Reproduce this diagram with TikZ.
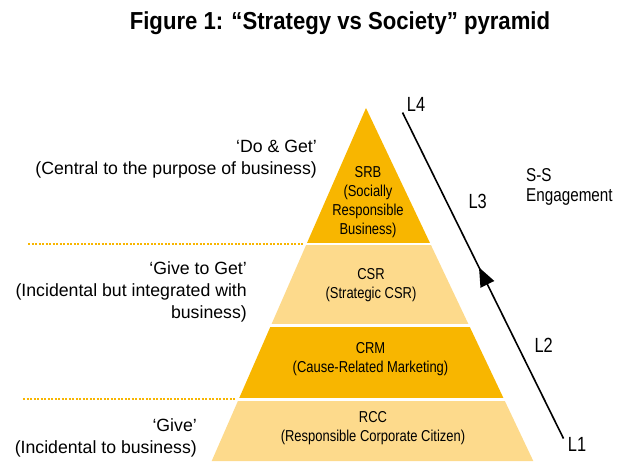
\documentclass[tikz,border=0pt]{standalone}
\usepackage{fontspec}
\setmainfont{Liberation Sans}
\newfontfamily\titlefont[FakeStretch=0.9]{Liberation Sans}
\newfontfamily\bandfont[FakeStretch=0.82]{Liberation Sans}
\newfontfamily\levelfont[FakeStretch=0.8]{Liberation Sans}
\usetikzlibrary{arrows.meta,calc}
\definecolor{darkband}{RGB}{248,182,0}
\definecolor{lightband}{RGB}{253,218,140}
\tikzset{
  lefttext/.style={anchor=base east,inner sep=0pt,align=right,font=\fontsize{17.7}{22}\selectfont},
  bandtext/.style={anchor=base,inner sep=0pt,align=center,font=\bandfont\fontsize{15.8}{18.8}\selectfont},
  leveltext/.style={anchor=base west,inner sep=0pt,font=\levelfont\fontsize{20.5}{24}\selectfont},
  divider/.style={darkband,line width=2pt,dash pattern=on 2pt off 1.5pt},
}
\begin{document}
\begin{tikzpicture}[x=1pt,y=-1pt]
    \useasboundingbox (0,0) rectangle (621,461);
    \path (340,29.3) node[anchor=base,inner sep=0pt,font=\titlefont\bfseries\fontsize{24.6}{30}\selectfont] (title) {Figure 1: “Strategy vs Society” pyramid};

    \begin{scope}
      \clip (366,108) -- (211.7,461) -- (533.3,461) -- cycle;
      \fill[darkband] (200,100) rectangle (550,243);
      \fill[lightband] (200,245) rectangle (550,324.3);
      \fill[darkband] (200,326.7) rectangle (550,398.3);
      \fill[lightband] (200,400.7) rectangle (550,470);
    \end{scope}

    \draw[divider] (28,244) -- (303,244);
    \draw[divider] (23,399) -- (236,399);

    \path (368,234) node[bandtext] (srb) {SRB\\(Socially\\Responsible\\Business)};
    \path (371,298) node[bandtext] (csr) {CSR\\(Strategic CSR)};
    \path (370.5,372.7) node[bandtext] (crm) {CRM\\(Cause-Related Marketing)};
    \path (373,441.7) node[bandtext] (rcc) {RCC\\(Responsible Corporate Citizen)};

    \path (317,174.3) node[lefttext] (doget) {‘Do \& Get’\\(Central to the purpose of business)};
    \path (247,318.3) node[lefttext] (givetoget) {‘Give to Get’\\(Incidental but integrated with\\business)};
    \path (197,453.3) node[lefttext] (give) {‘Give’\\(Incidental to business)};

    \path (406.7,111.7) node[leveltext] (l4) {L4};
    \path (468.3,208.3) node[leveltext] (l3) {L3};
    \path (534.3,352.7) node[leveltext] (l2) {L2};
    \path (567.7,451.7) node[leveltext] (l1) {L1};
    \path (526,201.7) node[anchor=base west,inner sep=0pt,align=left,font=\bandfont\fontsize{18.6}{20}\selectfont] (ss) {S-S\\Engagement};

    \coordinate (low) at (563.5,438.5);
    \coordinate (high) at (402.5,112.5);
    \draw[line width=1.6pt,-{Triangle[length=19pt,width=15pt]}] (low) -- ($(low)!0.525!(high)$);
    \draw[line width=1.6pt] ($(low)!0.5!(high)$) -- (high);
  \end{tikzpicture}
\end{document}
